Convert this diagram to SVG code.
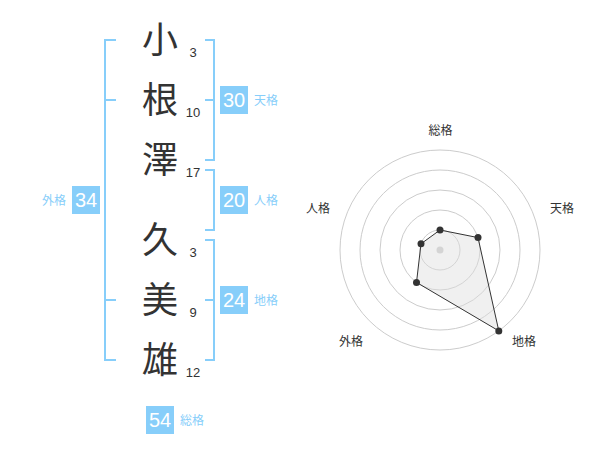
<svg xmlns="http://www.w3.org/2000/svg" width="600" height="470" viewBox="0 0 600 470">
<style>
.ch{font-family:"Noto Sans CJK JP","Noto Sans",sans-serif;font-size:36px;fill:#333;text-anchor:middle}
.num{font-family:"Liberation Sans",Arial,sans-serif;font-size:13px;fill:#333;text-anchor:middle}
.br{fill:none;stroke:#87cefa;stroke-width:2}
.box{fill:#87cefa}
.bn{font-family:"Liberation Sans",Arial,sans-serif;font-size:20px;fill:#fff;text-anchor:middle}
.lb{font-family:"Noto Sans CJK JP","Noto Sans",sans-serif;font-size:12px;fill:#87cefa}
.ring{fill:none;stroke:#ccc;stroke-width:1}
.rl{font-family:"Noto Sans CJK JP","Noto Sans",sans-serif;font-size:12px;fill:#333;text-anchor:middle}
.pt{fill:#333}
</style>
<rect width="600" height="470" fill="#fff"/>
<g id="connectors">
<path class="br" d="M116,40 H105 V360 H116 M105,100 H116 M105,300 H116"/>
<path class="br" d="M205,40 H214 V160 H205 M214,100 H205"/>
<path class="br" d="M205,170 H214 V230 H205"/>
<path class="br" d="M205,240 H214 V360 H205 M214,300 H205"/>
</g>
<g id="char-1"><text class="ch" x="160" y="53">小</text><text class="num" x="193" y="57">3</text></g>
<g id="char-2"><text class="ch" x="160" y="113">根</text><text class="num" x="193" y="117">10</text></g>
<g id="char-3"><text class="ch" x="160" y="173">澤</text><text class="num" x="193" y="177">17</text></g>
<g id="char-4"><text class="ch" x="160" y="253">久</text><text class="num" x="193" y="257">3</text></g>
<g id="char-5"><text class="ch" x="160" y="313">美</text><text class="num" x="193" y="317">9</text></g>
<g id="char-6"><text class="ch" x="160" y="373">雄</text><text class="num" x="193" y="377">12</text></g>
<g id="tenkaku"><rect class="box" x="220" y="86" width="28" height="28"/><text class="bn" x="234" y="107">30</text><text class="lb" x="254" y="105">天格</text></g>
<g id="jinkaku"><rect class="box" x="220" y="186" width="28" height="28"/><text class="bn" x="234" y="207">20</text><text class="lb" x="254" y="205">人格</text></g>
<g id="chikaku"><rect class="box" x="220" y="286" width="28" height="28"/><text class="bn" x="234" y="307">24</text><text class="lb" x="254" y="305">地格</text></g>
<g id="gaikaku"><rect class="box" x="72" y="186" width="28" height="28"/><text class="bn" x="86" y="207">34</text><text class="lb" x="66" y="205" text-anchor="end">外格</text></g>
<g id="soukaku"><rect class="box" x="146" y="406" width="28" height="28"/><text class="bn" x="160" y="427">54</text><text class="lb" x="180" y="425">総格</text></g>
<g id="radar">
<circle class="ring" cx="440" cy="250" r="20"/>
<circle class="ring" cx="440" cy="250" r="40"/>
<circle class="ring" cx="440" cy="250" r="60"/>
<circle class="ring" cx="440" cy="250" r="80"/>
<circle class="ring" cx="440" cy="250" r="100"/>
<circle cx="440" cy="250" r="3.5" fill="#ccc"/>
<polygon points="440,230 478,237.6 498.8,330.9 416.5,282.4 421,243.8" fill="#ddd" fill-opacity="0.45" stroke="#333" stroke-width="1"/>
<circle class="pt" cx="440" cy="230" r="3.5"/>
<circle class="pt" cx="478" cy="237.6" r="3.5"/>
<circle class="pt" cx="498.8" cy="330.9" r="3.5"/>
<circle class="pt" cx="416.5" cy="282.4" r="3.5"/>
<circle class="pt" cx="421" cy="243.8" r="3.5"/>
<text class="rl" x="440.5" y="135">総格</text>
<text class="rl" x="562" y="213">天格</text>
<text class="rl" x="318" y="213">人格</text>
<text class="rl" x="524" y="346">地格</text>
<text class="rl" x="351" y="346">外格</text>
</g>
</svg>
